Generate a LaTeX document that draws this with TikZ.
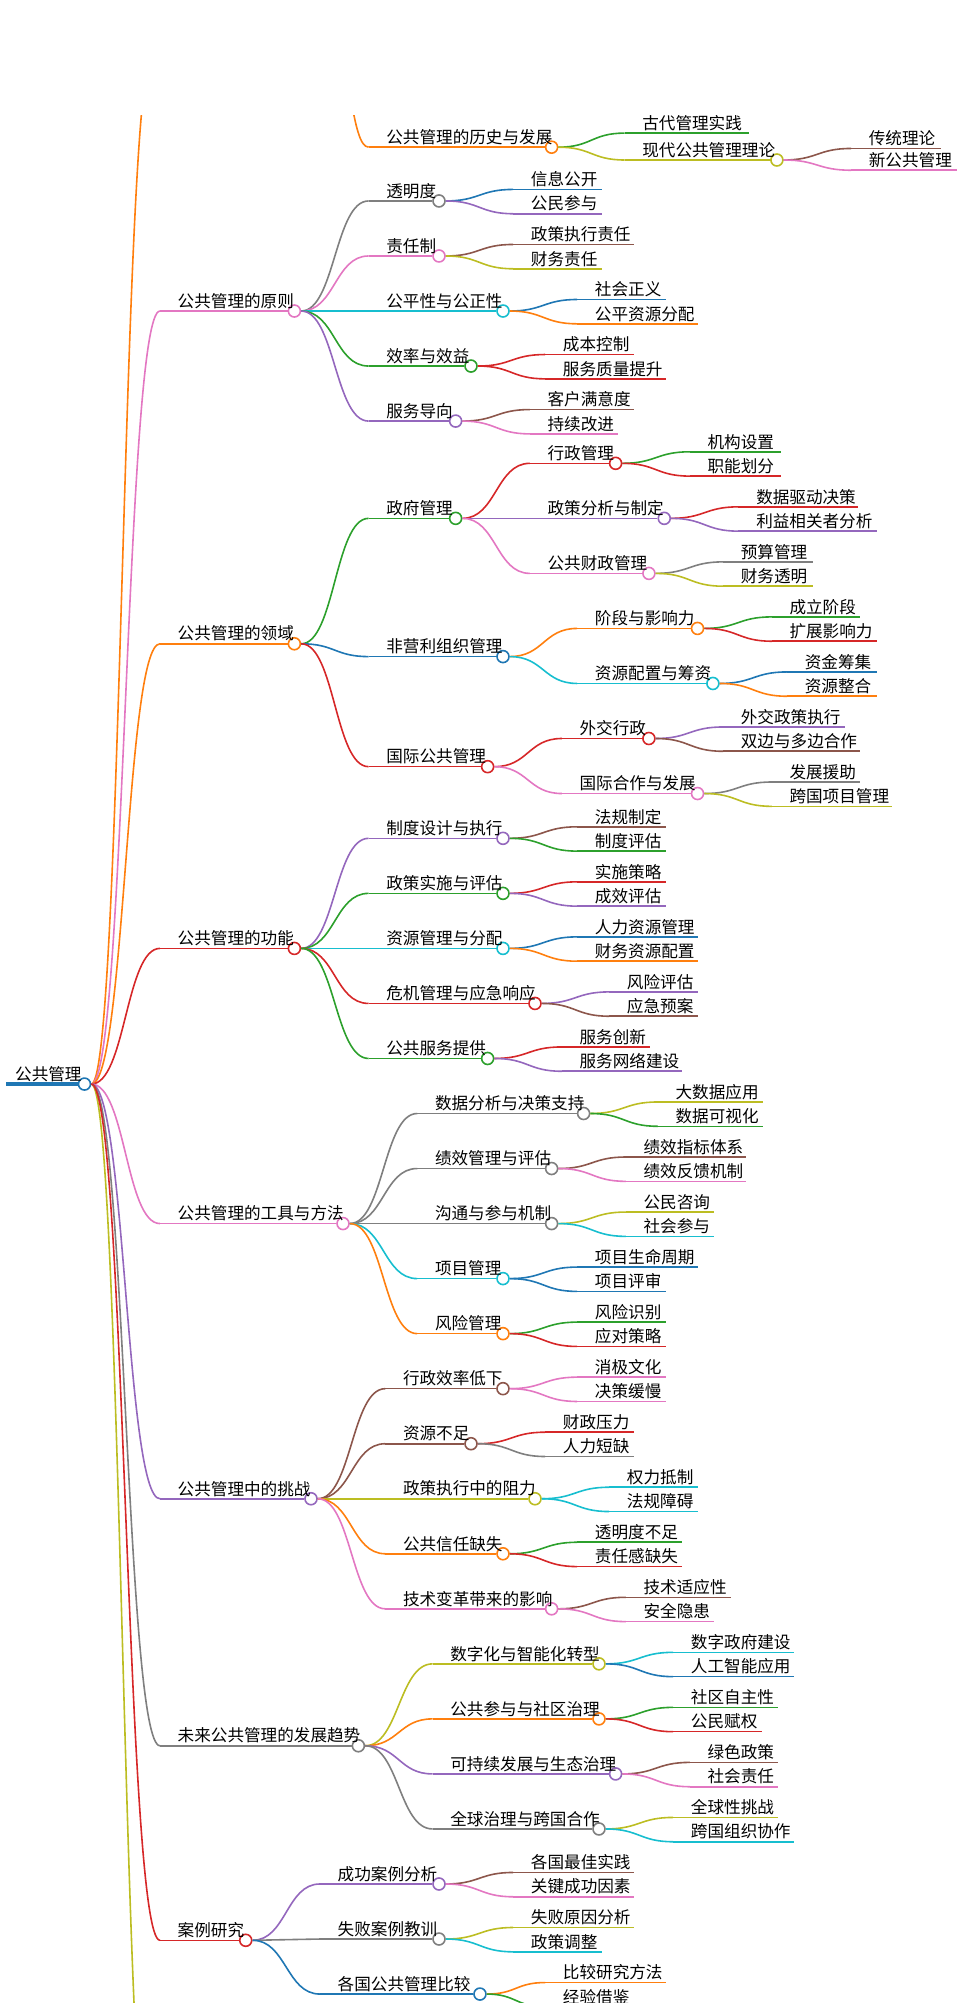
\documentclass[tikz,border=0pt]{standalone}
\usepackage{fontspec}
\setmainfont{Noto Sans CJK SC}
\usetikzlibrary{positioning,calc}
\definecolor{cblue}{HTML}{1F77B4}
\definecolor{corange}{HTML}{FF7F0E}
\definecolor{cgreen}{HTML}{2CA02C}
\definecolor{cred}{HTML}{D62728}
\definecolor{cpurple}{HTML}{9467BD}
\definecolor{cbrown}{HTML}{8C564B}
\definecolor{cpink}{HTML}{E377C2}
\definecolor{cgray}{HTML}{7F7F7F}
\definecolor{colive}{HTML}{BCBD22}
\definecolor{ccyan}{HTML}{17BECF}
\tikzset{
  dot/.style={circle,fill=white,line width=0.8pt,minimum size=6pt,inner sep=0pt},
  lbl/.style={inner sep=1pt,anchor=south west,font=\fontsize{8.3}{10}\selectfont},
  edge/.style={line width=0.8pt}
}
% S-shaped link from parent circle to the start of a child line
\newcommand\mlink[3]{%
  \draw[edge,#3] let \p1=(#1.east), \p2=(#2) in
    (\p1) .. controls ({(\x1+\x2)/2},\y1) and ({(\x1+\x2)/2},\y2) .. (\p2);}
% branch with circle: name, parent, text, text x, y, circle x, colour
\newcommand\mbranch[7]{%
  \coordinate (#1-s) at (#4-12,#5);
  \node[dot,draw=#7] (#1) at (#6,#5) {};
  \node[lbl] (#1-t) at (#4,#5) {#3};
  \mlink{#2}{#1-s}{#7}
  \draw[edge,#7] (#1-s) -- (#1.west);}
% leaf: name, parent, text, text x, y, end x, colour
\newcommand\mleaf[7]{%
  \coordinate (#1-s) at (#4-12,#5);
  \coordinate (#1) at (#6,#5);
  \node[lbl] (#1-t) at (#4,#5) {#3};
  \mlink{#2}{#1-s}{#7}
  \draw[edge,#7] (#1-s) -- (#1);}
\begin{document}
\begin{tikzpicture}[x=0.64pt,y=-0.64pt]
\useasboundingbox (0,0) rectangle (750,1565);
\clip (0,90) rectangle (750,1565);

% root
\coordinate (root-s) at (5,847);
\node[dot,draw=cblue] (root) at (66,847) {};
\node[lbl] (root-t) at (10,847) {公共管理};
\draw[line width=1.6pt,cblue] (root-s) -- (root.west);

% branches cut off at top and bottom
\mbranch{top}{root}{}{132}{40}{255}{corange}
\mbranch{low}{root}{}{132}{1720}{255}{colive}

% history
\mbranch{hist}{top}{公共管理的历史与发展}{300}{115}{431}{corange}
\mleaf{hist1}{hist}{古代管理实践}{500}{104}{585}{cgreen}
\mbranch{hist2}{hist}{现代公共管理理论}{500}{125}{607}{colive}
\mleaf{hist21}{hist2}{传统理论}{677}{116}{735}{cbrown}
\mleaf{hist22}{hist2}{新公共管理}{677}{133}{748}{cpink}

% principles
\mbranch{prin}{root}{公共管理的原则}{137}{243}{230}{cpink}
\mbranch{prin1}{prin}{透明度}{300}{157}{343}{cgray}
\mleaf{prin11}{prin1}{信息公开}{413}{148}{470}{cblue}
\mleaf{prin12}{prin1}{公民参与}{413}{167}{470}{cpurple}
\mbranch{prin2}{prin}{责任制}{300}{200}{343}{cpink}
\mleaf{prin21}{prin2}{政策执行责任}{413}{191}{495}{cbrown}
\mleaf{prin22}{prin2}{财务责任}{413}{210}{470}{colive}
\mbranch{prin3}{prin}{公平性与公正性}{300}{243}{393}{ccyan}
\mleaf{prin31}{prin3}{社会正义}{463}{234}{520}{cblue}
\mleaf{prin32}{prin3}{公平资源分配}{463}{253}{545}{corange}
\mbranch{prin4}{prin}{效率与效益}{300}{286}{368}{cgreen}
\mleaf{prin41}{prin4}{成本控制}{438}{277}{495}{cred}
\mleaf{prin42}{prin4}{服务质量提升}{438}{296}{520}{cred}
\mbranch{prin5}{prin}{服务导向}{300}{329}{356}{cpurple}
\mleaf{prin51}{prin5}{客户满意度}{426}{320}{495}{cbrown}
\mleaf{prin52}{prin5}{持续改进}{426}{339}{483}{cpink}

% domains
\mbranch{dom}{root}{公共管理的领域}{137}{503}{230}{corange}
\mbranch{dom1}{dom}{政府管理}{300}{405}{356}{cgreen}
\mbranch{dom11}{dom1}{行政管理}{426}{362}{481}{cred}
\mleaf{dom111}{dom11}{机构设置}{551}{353}{610}{cgreen}
\mleaf{dom112}{dom11}{职能划分}{551}{372}{610}{cred}
\mbranch{dom12}{dom1}{政策分析与制定}{426}{405}{519}{cpurple}
\mleaf{dom121}{dom12}{数据驱动决策}{589}{396}{670}{cred}
\mleaf{dom122}{dom12}{利益相关者分析}{589}{415}{685}{cpurple}
\mbranch{dom13}{dom1}{公共财政管理}{426}{448}{507}{cpink}
\mleaf{dom131}{dom13}{预算管理}{577}{439}{635}{cgray}
\mleaf{dom132}{dom13}{财务透明}{577}{458}{635}{colive}
\mbranch{dom2}{dom}{非营利组织管理}{300}{513}{393}{cblue}
\mbranch{dom21}{dom2}{阶段与影响力}{463}{491}{545}{corange}
\mleaf{dom211}{dom21}{成立阶段}{615}{482}{672}{cgreen}
\mleaf{dom212}{dom21}{扩展影响力}{615}{501}{685}{cred}
\mbranch{dom22}{dom2}{资源配置与筹资}{463}{534}{557}{ccyan}
\mleaf{dom221}{dom22}{资金筹集}{627}{525}{685}{cblue}
\mleaf{dom222}{dom22}{资源整合}{627}{544}{685}{corange}
\mbranch{dom3}{dom}{国际公共管理}{300}{599}{381}{cred}
\mbranch{dom31}{dom3}{外交行政}{451}{577}{507}{cred}
\mleaf{dom311}{dom31}{外交政策执行}{577}{568}{660}{cpurple}
\mleaf{dom312}{dom31}{双边与多边合作}{577}{587}{672}{cbrown}
\mbranch{dom32}{dom3}{国际合作与发展}{451}{620}{545}{cpink}
\mleaf{dom321}{dom32}{发展援助}{615}{611}{672}{cgray}
\mleaf{dom322}{dom32}{跨国项目管理}{615}{630}{697}{colive}

% functions
\mbranch{fun}{root}{公共管理的功能}{137}{741}{230}{cred}
\mbranch{fun1}{fun}{制度设计与执行}{300}{655}{393}{cpurple}
\mleaf{fun11}{fun1}{法规制定}{463}{646}{520}{cbrown}
\mleaf{fun12}{fun1}{制度评估}{463}{665}{520}{cgreen}
\mbranch{fun2}{fun}{政策实施与评估}{300}{698}{393}{cgreen}
\mleaf{fun21}{fun2}{实施策略}{463}{689}{520}{cred}
\mleaf{fun22}{fun2}{成效评估}{463}{708}{520}{cpurple}
\mbranch{fun3}{fun}{资源管理与分配}{300}{741}{393}{ccyan}
\mleaf{fun31}{fun3}{人力资源管理}{463}{732}{545}{cblue}
\mleaf{fun32}{fun3}{财务资源配置}{463}{751}{545}{corange}
\mbranch{fun4}{fun}{危机管理与应急响应}{300}{784}{418}{cred}
\mleaf{fun41}{fun4}{风险评估}{488}{775}{545}{cpurple}
\mleaf{fun42}{fun4}{应急预案}{488}{794}{545}{cbrown}
\mbranch{fun5}{fun}{公共服务提供}{300}{827}{381}{cgreen}
\mleaf{fun51}{fun5}{服务创新}{451}{818}{508}{cred}
\mleaf{fun52}{fun5}{服务网络建设}{451}{837}{533}{cpurple}

% tools
\mbranch{tool}{root}{公共管理的工具与方法}{137}{956}{268}{cpink}
\mbranch{tool1}{tool}{数据分析与决策支持}{338}{870}{456}{cgray}
\mleaf{tool11}{tool1}{大数据应用}{526}{861}{596}{colive}
\mleaf{tool12}{tool1}{数据可视化}{526}{880}{596}{cgreen}
\mbranch{tool2}{tool}{绩效管理与评估}{338}{913}{431}{cgray}
\mleaf{tool21}{tool2}{绩效指标体系}{501}{904}{583}{cbrown}
\mleaf{tool22}{tool2}{绩效反馈机制}{501}{923}{583}{cpink}
\mbranch{tool3}{tool}{沟通与参与机制}{338}{956}{431}{cgray}
\mleaf{tool31}{tool3}{公民咨询}{501}{947}{558}{colive}
\mleaf{tool32}{tool3}{社会参与}{501}{966}{558}{ccyan}
\mbranch{tool4}{tool}{项目管理}{338}{999}{393}{ccyan}
\mleaf{tool41}{tool4}{项目生命周期}{463}{990}{545}{cblue}
\mleaf{tool42}{tool4}{项目评审}{463}{1009}{520}{cblue}
\mbranch{tool5}{tool}{风险管理}{338}{1042}{393}{corange}
\mleaf{tool51}{tool5}{风险识别}{463}{1033}{520}{cgreen}
\mleaf{tool52}{tool5}{应对策略}{463}{1052}{520}{cred}

% challenges
\mbranch{chal}{root}{公共管理中的挑战}{137}{1171}{243}{cpurple}
\mbranch{chal1}{chal}{行政效率低下}{313}{1085}{393}{cbrown}
\mleaf{chal11}{chal1}{消极文化}{463}{1076}{520}{cpink}
\mleaf{chal12}{chal1}{决策缓慢}{463}{1095}{520}{cpink}
\mbranch{chal2}{chal}{资源不足}{313}{1128}{368}{cbrown}
\mleaf{chal21}{chal2}{财政压力}{438}{1119}{495}{cred}
\mleaf{chal22}{chal2}{人力短缺}{438}{1138}{495}{cgray}
\mbranch{chal3}{chal}{政策执行中的阻力}{313}{1171}{418}{colive}
\mleaf{chal31}{chal3}{权力抵制}{488}{1162}{545}{ccyan}
\mleaf{chal32}{chal3}{法规障碍}{488}{1181}{545}{ccyan}
\mbranch{chal4}{chal}{公共信任缺失}{313}{1214}{393}{corange}
\mleaf{chal41}{chal4}{透明度不足}{463}{1205}{533}{cgreen}
\mleaf{chal42}{chal4}{责任感缺失}{463}{1224}{533}{cred}
\mbranch{chal5}{chal}{技术变革带来的影响}{313}{1257}{431}{cpink}
\mleaf{chal51}{chal5}{技术适应性}{501}{1248}{571}{cbrown}
\mleaf{chal52}{chal5}{安全隐患}{501}{1267}{558}{cpink}

% trends
\mbranch{trend}{root}{未来公共管理的发展趋势}{137}{1364}{280}{cgray}
\mbranch{trend1}{trend}{数字化与智能化转型}{350}{1300}{468}{colive}
\mleaf{trend11}{trend1}{数字政府建设}{538}{1291}{620}{ccyan}
\mleaf{trend12}{trend1}{人工智能应用}{538}{1310}{620}{cblue}
\mbranch{trend2}{trend}{公共参与与社区治理}{350}{1343}{468}{corange}
\mleaf{trend21}{trend2}{社区自主性}{538}{1334}{608}{cgreen}
\mleaf{trend22}{trend2}{公民赋权}{538}{1353}{595}{cred}
\mbranch{trend3}{trend}{可持续发展与生态治理}{350}{1386}{481}{cpurple}
\mleaf{trend31}{trend3}{绿色政策}{551}{1377}{608}{cbrown}
\mleaf{trend32}{trend3}{社会责任}{551}{1396}{608}{cpink}
\mbranch{trend4}{trend}{全球治理与跨国合作}{350}{1429}{468}{cgray}
\mleaf{trend41}{trend4}{全球性挑战}{538}{1420}{608}{colive}
\mleaf{trend42}{trend4}{跨国组织协作}{538}{1439}{620}{ccyan}

% cases
\mbranch{case}{root}{案例研究}{137}{1516}{192}{cred}
\mbranch{case1}{case}{成功案例分析}{262}{1472}{343}{cpurple}
\mleaf{case11}{case1}{各国最佳实践}{413}{1463}{495}{cbrown}
\mleaf{case12}{case1}{关键成功因素}{413}{1482}{495}{cpink}
\mbranch{case2}{case}{失败案例教训}{262}{1515}{343}{cgray}
\mleaf{case21}{case2}{失败原因分析}{413}{1506}{495}{colive}
\mleaf{case22}{case2}{政策调整}{413}{1525}{470}{ccyan}
\mbranch{case3}{case}{各国公共管理比较}{262}{1558}{375}{cblue}
\mleaf{case31}{case3}{比较研究方法}{438}{1549}{520}{corange}
\mleaf{case32}{case3}{经验借鉴}{438}{1568}{495}{cgreen}
\end{tikzpicture}
\end{document}
